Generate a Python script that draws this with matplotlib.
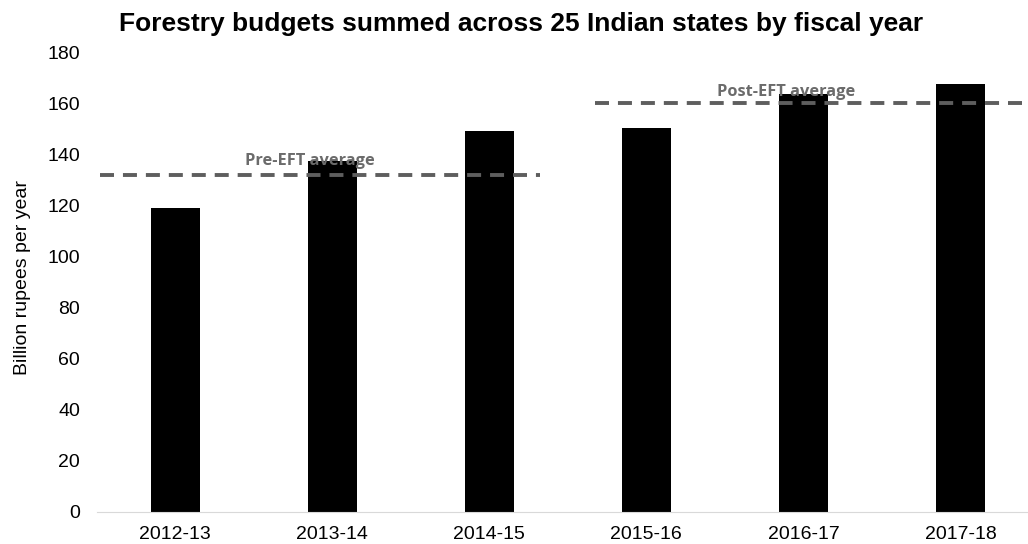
import matplotlib
matplotlib.use("Agg")
import matplotlib.pyplot as plt

years = ["2012-13", "2013-14", "2014-15", "2015-16", "2016-17", "2017-18"]
budgets = [119, 137.5, 149, 150.5, 163.5, 167.5]
pre_avg = 132
post_avg = 160

plt.rcParams['font.family'] = ['Liberation Sans', 'DejaVu Sans']

fig = plt.figure(figsize=(10.28, 5.44), dpi=100)
ax = fig.add_axes([0.094, 0.059, 0.906, 0.845])

x = list(range(len(years)))
ax.bar(x, budgets, width=0.31, color='black')

# average lines
ax.hlines(pre_avg, -0.48, 2.32, colors='#5e5e5e', linestyles=(0, (3.6, 2.3)), linewidth=2.8)
ax.hlines(post_avg, 2.67, 5.6, colors='#5e5e5e', linestyles=(0, (3.6, 2.3)), linewidth=2.8)
ax.text(0.86, pre_avg + 4, "Pre-EFT average", color='#6b6b6b', fontsize=11.8,
        fontweight='bold', family=['Open Sans', 'DejaVu Sans'], ha='center', va='baseline')
ax.text(3.89, post_avg + 2.8, "Post-EFT average", color='#6b6b6b', fontsize=11.8,
        fontweight='bold', family=['Open Sans', 'DejaVu Sans'], ha='center', va='baseline')

ax.set_xlim(-0.5, 5.43)
ax.set_ylim(0, 180)
ax.set_yticks(range(0, 181, 20))
ax.set_xticks(x)
ax.set_xticklabels(years)
ax.tick_params(length=0, labelsize=14, colors='black')
ax.tick_params(axis='x', pad=10)
ax.tick_params(axis='y', pad=12)
for side in ['top', 'right', 'left']:
    ax.spines[side].set_visible(False)
ax.spines['bottom'].set_color('#d9d9d9')

ax.set_ylabel("Billion rupees per year", fontsize=14)
ax.yaxis.set_label_coords(-0.071, 0.51)
fig.suptitle("Forestry budgets summed across 25 Indian states by fiscal year",
             fontsize=19, fontweight='bold', x=0.507, y=0.978)

fig.savefig("out.png", dpi=100)
